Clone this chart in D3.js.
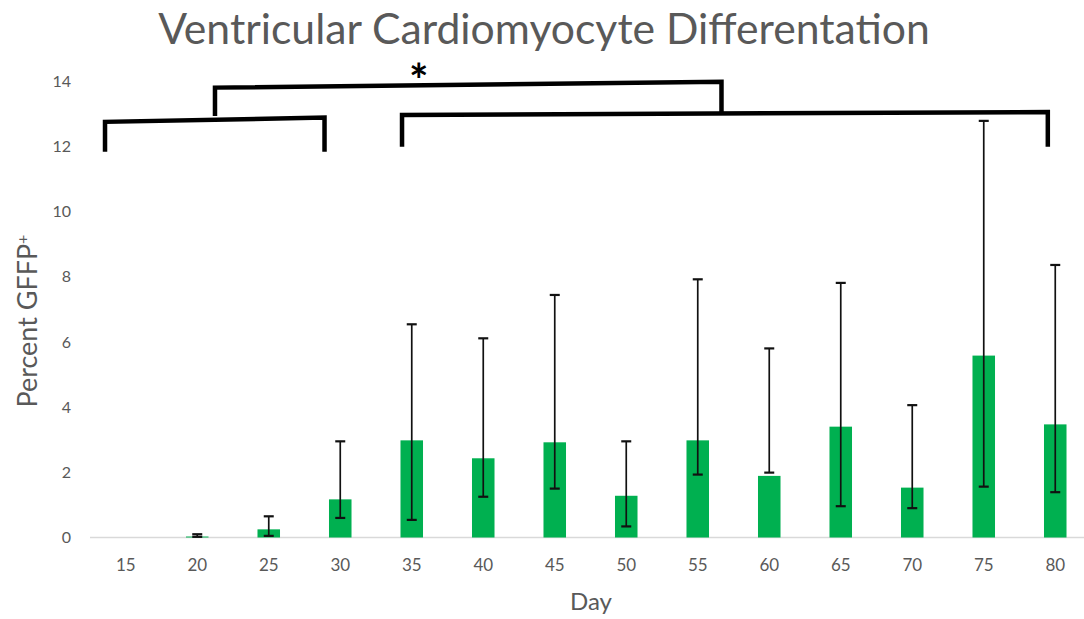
<!DOCTYPE html>
<html>
<head>
<meta charset="utf-8">
<script src="https://cdn.jsdelivr.net/npm/d3@7"></script>
<style>
	body { margin:0; background:#fff; }
	text { font-family: Lato, "Open Sans", sans-serif; }
</style>
</head>
<body>
<div id="idChart"></div>
<script>
// values
var aDays=[15,20,25,30,35,40,45,50,55,60,65,70,75,80];
var aMean=[0,0.03,0.25,1.17,2.98,2.43,2.92,1.28,2.98,1.89,3.40,1.53,5.58,3.47];
var aErrLow=[null,0.02,0.05,0.60,0.54,1.25,1.50,0.34,1.93,1.99,0.96,0.90,1.56,1.39];
var aErrHigh=[null,0.10,0.65,2.95,6.54,6.11,7.44,2.95,7.92,5.80,7.81,4.06,12.78,8.36];
var aYTicks=[0,2,4,6,8,10,12,14];

// significance brackets as [day, percent] points
var aBracketLeft=[[13.55,11.83],[13.55,12.75],[28.9,12.88],[28.9,11.83]];
var aBracketRight=[[34.32,11.99],[34.32,12.96],[79.48,13.05],[79.48,11.99]];
var aBracketTop=[[21.24,12.93],[21.24,13.80],[56.66,13.98],[56.66,13.01]];
var aBrackets=[aBracketLeft,aBracketRight,aBracketTop];
var aStar={sLabel:"*",iDay:35.5,fValue:14.28};

var sTitle="Ventricular Cardiomyocyte Differentation";
var sXTitle="Day";

var iWidth=1084;
var iHeight=619;
var sGrey="#595959";

var myData=aDays.map(function(iDay,i){
	return {iDay:iDay,fMean:aMean[i],fLow:aErrLow[i],fHigh:aErrHigh[i]};
});

var mySvg=d3.select("#idChart").append("svg")
	.attr("width",iWidth)
	.attr("height",iHeight);

var xBand=d3.scaleBand()
	.domain(aDays)
	.range([90,1091])
	.paddingInner(0.685)
	.paddingOuter(0.3425);

var xDay=d3.scaleLinear()
	.domain([15,80])
	.range([xBand(15)+xBand.bandwidth()/2,xBand(80)+xBand.bandwidth()/2]);

var yAxes=d3.scaleLinear()
	.domain([0,14])
	.range([537.5,81.1]);

// fit a text element's font size to a target width
function FitText(myText,iTarget)
{
	myText.style("font-size","100px");
	var fLen=myText.node().getComputedTextLength();
	myText.style("font-size",(100*iTarget/fLen)+"px");
}

// title
var myTitle=mySvg.append("text")
	.attr("x",544)
	.attr("y",43.5)
	.attr("text-anchor","middle")
	.attr("fill",sGrey)
	.text(sTitle);
FitText(myTitle,772);

// axis line
mySvg.append("line")
	.attr("x1",90)
	.attr("x2",xBand.range()[1])
	.attr("y1",yAxes(0))
	.attr("y2",yAxes(0))
	.attr("stroke","#d9d9d9")
	.attr("stroke-width",1.5);

// y axis
var myYAxis=mySvg.append("g")
	.attr("transform","translate(71,0)")
	.call(d3.axisLeft(yAxes).tickValues(aYTicks).tickSize(0).tickPadding(0));
myYAxis.select(".domain").remove();
myYAxis.selectAll("text")
	.style("font-family","Lato, sans-serif")
	.style("font-size","16px")
	.attr("fill",sGrey);

// x axis
var myXAxis=mySvg.append("g")
	.attr("transform","translate(0,"+yAxes(0)+")")
	.call(d3.axisBottom(xBand).tickSize(0).tickPadding(21));
myXAxis.select(".domain").remove();
myXAxis.selectAll("text")
	.style("font-family","Lato, sans-serif")
	.style("font-size","17px")
	.attr("fill",sGrey);

// axis titles
var myXTitle=mySvg.append("text")
	.attr("x",591)
	.attr("y",610)
	.attr("text-anchor","middle")
	.attr("fill",sGrey)
	.text(sXTitle);
FitText(myXTitle,42);

var myYTitle=mySvg.append("text")
	.attr("transform","translate(37,321) rotate(-90)")
	.attr("text-anchor","middle")
	.attr("fill",sGrey);
myYTitle.append("tspan").text("Percent GFFP");
myYTitle.append("tspan")
	.attr("dy","-0.55em")
	.style("font-size","0.6em")
	.text("+");
FitText(myYTitle,173);

// bars
mySvg.selectAll(".GFFPBars")
	.data(myData.filter(function(myNode){return myNode.fMean>0;}))
	.enter().append("rect")
	.attr("class","GFFPBars")
	.attr("x",function(myNode){return xBand(myNode.iDay);})
	.attr("width",xBand.bandwidth())
	.attr("y",function(myNode){return yAxes(myNode.fMean);})
	.attr("height",function(myNode){return yAxes(0)-yAxes(myNode.fMean);})
	.attr("fill","#00b050");

// error bars
var iCap=5;
var myErr=mySvg.selectAll(".GFFPErr")
	.data(myData.filter(function(myNode){return myNode.fHigh!==null;}))
	.enter().append("g")
	.attr("class","GFFPErr")
	.attr("stroke","#111")
	.attr("stroke-width",1.7)
	.attr("transform",function(myNode){return "translate("+(xBand(myNode.iDay)+xBand.bandwidth()/2)+",0)";});

myErr.append("line")
	.attr("x1",0).attr("x2",0)
	.attr("y1",function(myNode){return yAxes(myNode.fLow);})
	.attr("y2",function(myNode){return yAxes(myNode.fHigh);});
myErr.append("line")
	.attr("x1",-iCap).attr("x2",iCap)
	.attr("stroke-width",2.2)
	.attr("y1",function(myNode){return yAxes(myNode.fLow);})
	.attr("y2",function(myNode){return yAxes(myNode.fLow);});
myErr.append("line")
	.attr("x1",-iCap).attr("x2",iCap)
	.attr("stroke-width",2.2)
	.attr("y1",function(myNode){return yAxes(myNode.fHigh);})
	.attr("y2",function(myNode){return yAxes(myNode.fHigh);});

// significance brackets
var myLine=d3.line()
	.x(function(aPt){return xDay(aPt[0]);})
	.y(function(aPt){return yAxes(aPt[1]);});

mySvg.selectAll(".SigBrackets")
	.data(aBrackets)
	.enter().append("path")
	.attr("class","SigBrackets")
	.attr("d",myLine)
	.attr("fill","none")
	.attr("stroke","#000")
	.attr("stroke-width",4.5)
	.attr("stroke-linejoin","miter");

mySvg.append("text")
	.attr("x",xDay(aStar.iDay))
	.attr("y",yAxes(aStar.fValue)+25)
	.attr("text-anchor","middle")
	.style("font-size","46px")
	.style("font-weight","bold")
	.attr("fill","#000")
	.text(aStar.sLabel);
</script>
</body>
</html>
